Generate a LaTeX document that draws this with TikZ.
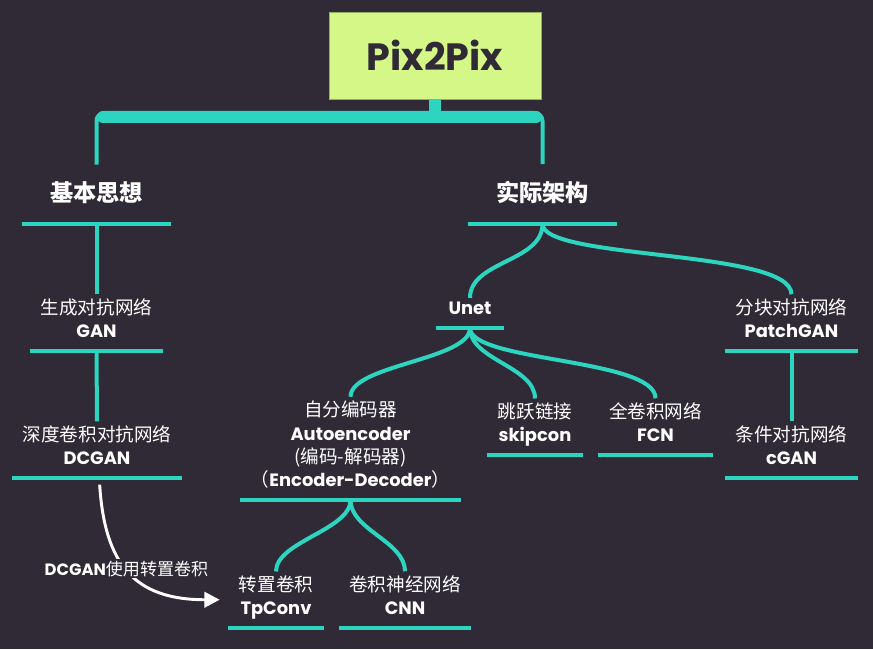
\documentclass[tikz,border=0pt]{standalone}
\usepackage{fontspec}
\setmainfont{Poppins}
\newfontfamily\cjkfont[Scale=1.04]{Noto Sans CJK SC}
\usetikzlibrary{arrows.meta,positioning,calc}
\definecolor{bgdark}{RGB}{47,42,53}
\definecolor{tealline}{RGB}{45,212,191}
\definecolor{rootgreen}{RGB}{212,247,136}
\definecolor{rootedge}{RGB}{150,172,96}
\newcommand{\Zh}[1]{{\cjkfont#1}}
\newcommand{\En}[1]{{\bfseries#1}}
\tikzset{
  rootbox/.style={fill=rootgreen, draw=rootedge, line width=0.6pt,
                  minimum width=159pt, minimum height=65.25pt, text=bgdark,
                  font=\fontsize{28.5}{32}\selectfont\bfseries},
  head/.style={text=white, anchor=south, minimum width=#1*0.75pt, inner xsep=0pt,
               inner ysep=12.75pt, text depth=3.75pt, font=\fontsize{16.75}{21}\selectfont},
  item/.style={text=white, anchor=south, align=center, minimum width=#1*0.75pt,
               inner xsep=0pt, inner ysep=3pt, text depth=6.75pt,
               font=\fontsize{13.4}{17.5}\selectfont},
  uline/.style={tealline, line width=3pt},
  branch/.style={tealline, line width=3pt},
  trunk/.style={tealline, line width=9pt},
  hint/.style={white, line width=2.2pt, -{Triangle[length=11.5pt, width=11.5pt]}},
}
\begin{document}
\begin{tikzpicture}[x=0.75pt, y=-0.75pt]
 \fill[bgdark] (0,0) rectangle (873,649);
 \useasboundingbox (0,0) rectangle (873,649);

 \node[rootbox] (root) at (435,55.5) {Pix2Pix};

 \node[head=149] (idea) at (96.5,224)  {\Zh{\bfseries 基本思想}};
 \node[head=149] (arch) at (542.5,224) {\Zh{\bfseries 实际架构}};

 \node[item=133] (gan)    at (96.5,351)  {\Zh{生成对抗网络}\\\En{GAN}};
 \node[item=170] (dcgan)  at (97,478)    {\Zh{深度卷积对抗网络}\\\En{DCGAN}};
 \node[item=68]  (unet)   at (470,328)   {\En{Unet}};
 \node[item=133] (patch)  at (791.5,351) {\Zh{分块对抗网络}\\\En{PatchGAN}};
 \node[item=133] (cgan)   at (791.5,478) {\Zh{条件对抗网络}\\\En{cGAN}};
 \node[item=221] (auto)   at (350.5,500) {\Zh{自分编码器}\\\En{Autoencoder}\\\Zh{(编码-解码器)}\\\Zh{（}\En{Encoder-Decoder}\Zh{）}};
 \node[item=96]  (skip)   at (535,455)   {\Zh{跳跃链接}\\\En{skipcon}};
 \node[item=115] (fcn)    at (655.5,455) {\Zh{全卷积网络}\\\En{FCN}};
 \node[item=96]  (tpconv) at (276,628)   {\Zh{转置卷积}\\\En{TpConv}};
 \node[item=132] (cnn)    at (405,628)   {\Zh{卷积神经网络}\\\En{CNN}};

 \foreach \n in {idea,arch,gan,dcgan,unet,patch,cgan,auto,skip,fcn,tpconv,cnn}
   \draw[uline] (\n.south west) -- (\n.south east);

 % top bracket
 \coordinate (barmid) at (435,113);
 \coordinate (barL) at (103,117);
 \coordinate (barR) at (536,117);
 \draw[branch, rounded corners=6pt] (idea.north) |- (barmid) -| (arch.north);
 \draw[trunk, line cap=round] (barL) -- (barR);
 \draw[trunk] (root.south) -- (root.south |- barR);

 \draw[branch] (idea.south) -- (gan.north);
 \draw[branch] (gan.south) -- (dcgan.north);
 \draw[branch] (patch.south) -- (cgan.north);

 \draw[branch] (arch.south) .. controls +(0,38) and +(0,-37) .. (unet.north);
 \draw[branch] (arch.south) .. controls +(0,36) and +(0,-45) .. (patch.north);
 \draw[branch] (unet.south) .. controls +(0,32) and +(0,-32) .. (auto.north);
 \draw[branch] (unet.south) .. controls +(0,32) and +(0,-32) .. (skip.north);
 \draw[branch] (unet.south) .. controls +(0,34) and +(0,-40) .. (fcn.north);
 \draw[branch] (auto.south) .. controls +(0,30) and +(0,-30) .. (tpconv.north);
 \draw[branch] (auto.south) .. controls +(0,30) and +(0,-30) .. (cnn.north);

 \draw[hint] ([xshift=2pt, yshift=-5pt]dcgan.south) .. controls +(5,80) and +(-85,0) .. ([xshift=-6pt]tpconv.west)
   node[pos=0.47, fill=bgdark, text=white, inner sep=1pt, font=\fontsize{12.3}{15}\selectfont] (hintlbl)
   {\En{DCGAN}\Zh{使用转置卷积}};
\end{tikzpicture}
\end{document}
